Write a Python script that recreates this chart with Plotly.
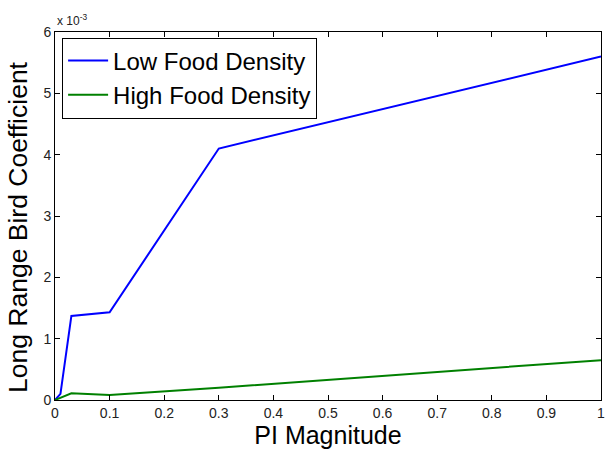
import plotly.graph_objects as go

pi_magnitude = [0, 0.01, 0.03, 0.1, 0.3, 1.0]
low_food = [0, 0.10, 1.37, 1.43, 4.10, 5.60]    # x 10^-3
high_food = [0, 0.04, 0.11, 0.08, 0.20, 0.65]   # x 10^-3
x_ticks = [0, 0.1, 0.2, 0.3, 0.4, 0.5, 0.6, 0.7, 0.8, 0.9, 1]
y_ticks = [0, 1, 2, 3, 4, 5, 6]

fig = go.Figure()
fig.add_trace(go.Scatter(x=pi_magnitude, y=low_food, mode="lines", name="Low Food Density",
                         line=dict(color="#0000ff", width=2)))
fig.add_trace(go.Scatter(x=pi_magnitude, y=high_food, mode="lines", name="High Food Density",
                         line=dict(color="#008000", width=2)))

font = "Liberation Sans, Arial, Helvetica, sans-serif"
axis_common = dict(showline=True, linecolor="black", linewidth=1, mirror="ticks",
                   ticks="inside", ticklen=5, tickcolor="black", showgrid=False,
                   zeroline=False, ticklabeloverflow="allow",
                   tickfont=dict(size=14, color="#222", family=font))

fig.update_layout(
    width=606, height=449,
    margin=dict(l=55, r=1, t=32, b=49),
    paper_bgcolor="white", plot_bgcolor="white",
    font=dict(family=font, color="black"),
    xaxis=dict(range=[0, 1], tickvals=x_ticks, ticktext=[str(v) for v in x_ticks],
               title=dict(text="PI Magnitude", font=dict(size=25), standoff=6), **axis_common),
    yaxis=dict(range=[0, 6], tickvals=y_ticks, ticktext=[str(v) for v in y_ticks],
               **axis_common),
    legend=dict(x=0.013, y=0.985, xanchor="left", yanchor="top", bgcolor="white",
                bordercolor="black", borderwidth=1, font=dict(size=24),
                tracegroupgap=0, itemwidth=40),
    showlegend=True,
    annotations=[
        dict(text="x 10<sup>-3</sup>", xref="paper", yref="paper", x=0.0, y=1.0,
             xanchor="left", yanchor="bottom", showarrow=False,
             font=dict(size=12, color="#222"), yshift=2),
        dict(text="Long Range Bird Coefficient", xref="paper", yref="paper", x=0.0, y=0.5,
             xanchor="right", yanchor="middle", textangle=-90, showarrow=False,
             font=dict(size=26.5, color="black"), xshift=-20, yshift=-11),
    ],
)

fig.write_html("out.html")
